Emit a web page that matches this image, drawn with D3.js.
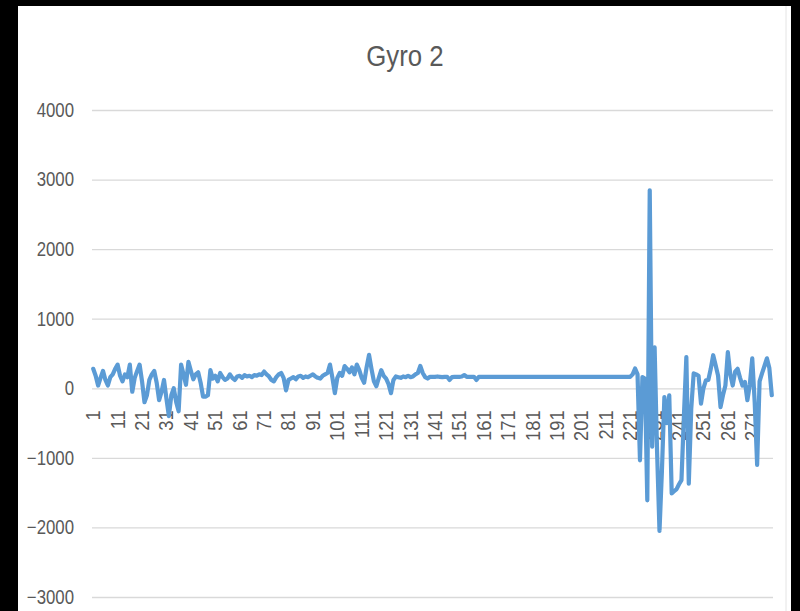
<!DOCTYPE html>
<html><head><meta charset="utf-8">
<script src="https://cdn.jsdelivr.net/npm/d3@7"></script>
<style>
html,body{margin:0;padding:0;background:#fff;}
svg{display:block;}
</style></head>
<body>
<svg id="chart" width="800" height="611"></svg>
<script>
const title = "Gyro 2";
const yTicks = [-3000, -2000, -1000, 0, 1000, 2000, 3000, 4000];
const gyro2 = [
280,180,40,150,250,120,40,160,200,280,
340,180,100,200,160,340,-50,150,250,340,
100,-200,-100,120,200,250,80,-170,-50,120,
-150,-400,-100,0,-200,-330,340,200,50,380,
250,130,200,230,80,-120,-120,-100,260,140,
180,100,220,160,120,140,200,150,120,170,
180,150,190,170,180,160,190,180,200,190,
240,200,170,120,100,160,200,220,150,-30,
120,140,160,130,170,180,150,170,160,180,
200,170,150,140,180,200,220,340,150,-70,
150,220,180,320,280,230,300,200,340,260,
150,80,300,480,280,100,30,150,260,180,
140,60,-70,120,170,160,150,170,160,180,
160,170,200,220,320,220,160,140,165,165,
165,170,165,160,165,165,120,160,165,165,
165,170,190,165,165,165,165,120,165,165,
165,165,165,165,165,165,165,165,165,165,
165,165,165,165,165,165,165,165,165,165,
165,165,165,165,165,165,165,165,165,165,
165,165,165,165,165,165,165,165,165,165,
165,165,165,165,165,165,165,165,165,165,
165,165,165,165,165,165,165,165,165,165,
165,200,285,200,-1035,160,140,-1610,2845,-840,
590,-900,-2050,-1180,-125,-500,-100,-1510,-1480,-1450,
-1380,-1320,-400,450,-1370,-300,215,200,180,-220,
0,115,120,280,475,330,180,-270,-100,40,
520,200,40,240,280,150,40,90,-170,50,
430,-200,-1100,100,215,320,430,290,-100
];
const categories = gyro2.map((d, i) => i + 1);
const xLabels = categories.filter(c => (c - 1) % 10 === 0);

const svg = d3.select("#chart");
const font = "'Liberation Sans', Arial, sans-serif";
const textColor = "#595959";

// frame (screenshot borders)
svg.append("rect").attr("x",0).attr("y",0).attr("width",800).attr("height",611).attr("fill","#fff");
svg.append("rect").attr("x",0).attr("y",0).attr("width",18).attr("height",611).attr("fill","#000");
svg.append("rect").attr("x",0).attr("y",0).attr("width",800).attr("height",6).attr("fill","#000");
svg.append("rect").attr("x",791).attr("y",0).attr("width",9).attr("height",611).attr("fill","#000");
svg.append("line").attr("x1",786).attr("x2",786).attr("y1",6).attr("y2",611).attr("stroke","#e4e4e4");

const x = d3.scaleBand().domain(categories).range([92, 773]).padding(0);
const y = d3.scaleLinear().domain([-3000, 4000]).range([597, 110]);
const cx = c => x(c) + x.bandwidth() / 2;

// gridlines + y labels
const yAxis = d3.axisLeft(y).tickValues(yTicks).tickSize(-(773 - 92)).tickFormat(d3.format("d"));
const gy = svg.append("g").attr("transform", "translate(92,0)").call(yAxis);
gy.select(".domain").remove();
gy.selectAll(".tick line").attr("stroke", "#d9d9d9").attr("stroke-width", 1.3);
gy.selectAll(".tick text").attr("x", -18 / 0.84).attr("fill", textColor)
  .attr("transform", "scale(0.84,1)")
  .style("font-family", font).style("font-size", "20px");

// x labels
const xAxis = d3.axisBottom(x).tickValues(xLabels).tickSize(0);
const gx = svg.append("g").attr("transform", `translate(0,${y(0)})`).call(xAxis);
gx.select(".domain").remove();
gx.selectAll(".tick text")
  .attr("transform", "rotate(-90) scale(0.92,1)")
  .attr("x", -22 / 0.92).attr("y", 0).attr("dy", "0.35em")
  .attr("text-anchor", "end")
  .attr("fill", textColor)
  .style("font-family", font).style("font-size", "20px");

// line
const line = d3.line().x((d, i) => cx(categories[i])).y(d => y(d));
svg.append("path").datum(gyro2).attr("d", line)
  .attr("fill", "none").attr("stroke", "#5b9bd5").attr("stroke-width", 4.2)
  .attr("stroke-linejoin", "round").attr("stroke-linecap", "round");

// title
svg.append("text").attr("transform", "translate(405,66) scale(0.86,1)").attr("text-anchor", "middle")
  .attr("fill", textColor).style("font-family", font).style("font-size", "30px")
  .text(title);
</script>
</body></html>
